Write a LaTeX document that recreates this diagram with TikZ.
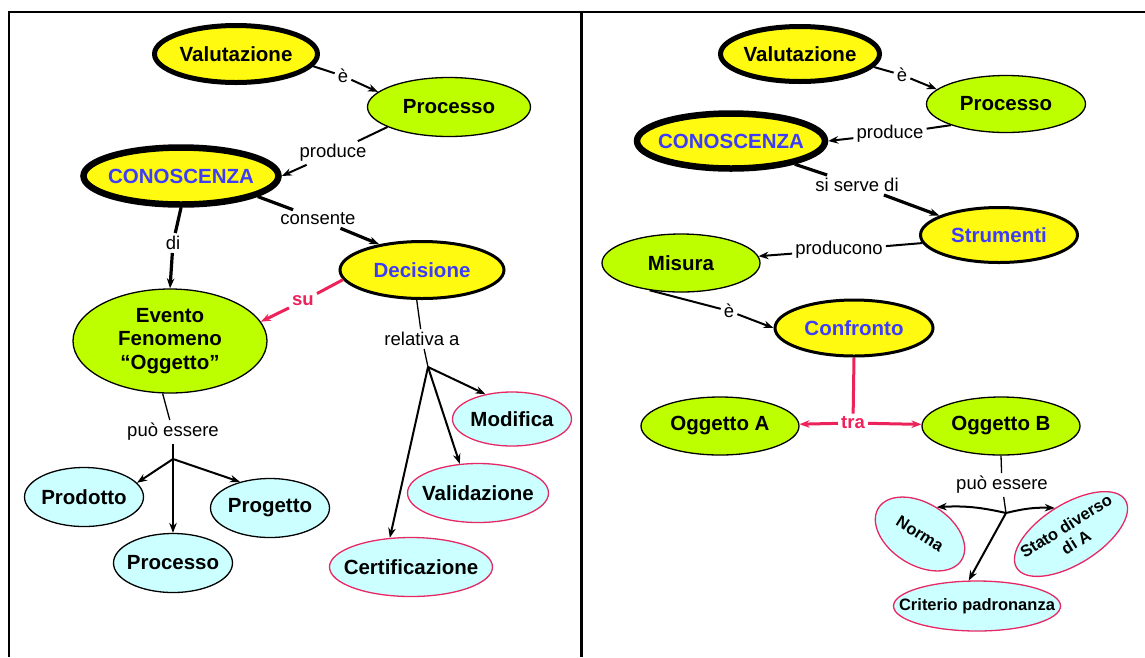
\documentclass[tikz,border=0pt]{standalone}
\usepackage{fontspec}
\setmainfont{Liberation Sans}
\usetikzlibrary{shapes.geometric,arrows.meta}
\definecolor{cyel}{RGB}{255,250,15}
\definecolor{cgrn}{RGB}{190,255,0}
\definecolor{ccya}{RGB}{204,255,255}
\definecolor{cpink}{RGB}{230,40,100}
\definecolor{cred}{RGB}{238,34,90}
\definecolor{cblue}{RGB}{60,60,250}
\newcommand{\cmfont}{\fontsize{20.5}{23.5}\selectfont\bfseries}
\newcommand{\lbfont}{\fontsize{18.5}{21}\selectfont}
\newcommand{\smfont}{\fontsize{16.5}{19}\selectfont\bfseries}
\newcommand{\zb}[1]{\makebox[0pt]{#1}}
\begin{document}
\begin{tikzpicture}[x=1pt,y=-1pt,
 concept/.style={ellipse, draw=black, line width=1.3pt, inner sep=0pt, align=center, font=\cmfont},
 yel/.style={concept, fill=cyel},
 grn/.style={concept, fill=cgrn},
 cya/.style={concept, fill=ccya},
 cyap/.style={concept, fill=ccya, draw=cpink},
 bluetxt/.style={text=cblue},
 lbl/.style={inner sep=3pt, font=\lbfont},
 redlbl/.style={inner sep=3pt, font=\lbfont\bfseries, text=cred},
 link/.style={line width=2pt},
 thin link/.style={line width=1.3pt},
 thick link/.style={line width=3.2pt},
 redlink/.style={line width=3pt, draw=cred},
 arrowto/.style={-{Stealth[length=10pt,width=7.5pt]}},
 framel/.style={line width=2.5pt},
]
\useasboundingbox (0,0) rectangle (1145,657);
\fill[white] (0,0) rectangle (1145,657);

% frame
\draw[framel] (8,12) -- (1145,12);
\draw[framel] (9,12) -- (9,657);
\draw[framel] (581.5,12) -- (581.5,657);

% ---------- left panel ----------
\node[yel, line width=5pt, minimum width=163pt, minimum height=57pt] (valL) at (236,54) {\zb{Valutazione}};
\node[grn, minimum width=163pt, minimum height=59pt] (procL) at (449,107) {\zb{Processo}};
\node[yel, bluetxt, line width=6.5pt, minimum width=195pt, minimum height=57pt] (conoL) at (181,176) {\zb{CONOSCENZA}};
\node[yel, bluetxt, line width=3pt, minimum width=164pt, minimum height=57pt] (decL) at (422,270) {\zb{Decisione}};
\node[grn, minimum width=194pt, minimum height=104pt] (evL) at (170,341) {\zb{Evento}\\\zb{Fenomeno}\\\zb{“Oggetto”}};
\node[cyap, minimum width=119pt, minimum height=54pt] (modL) at (512,419) {\zb{Modifica}};
\node[cyap, minimum width=141pt, minimum height=59pt] (valiL) at (478,493) {\zb{Validazione}};
\node[cyap, minimum width=163pt, minimum height=59pt] (certL) at (411,567) {\zb{Certificazione}};
\node[cya, minimum width=119pt, minimum height=59pt] (prodL) at (84,497) {\zb{Prodotto}};
\node[cya, minimum width=119pt, minimum height=59pt] (progL) at (270,508) {\zb{Progetto}};
\node[cya, minimum width=119pt, minimum height=59pt] (procL2) at (173,563) {\zb{Processo}};

\node[lbl] (le1) at (343,76) {è};
\node[lbl] (lprod) at (333,153) {produce};
\node[lbl] (lcons) at (318,219) {consente};
\node[lbl] (ldi) at (173,243) {di};
\node[redlbl] (lsu) at (303,301) {su};
\node[lbl] (lrel) at (422,339) {relativa a};
\node[lbl] (lpe) at (173,432) {può essere};
\coordinate (bRel) at (428,367);
\coordinate (bPe) at (173,459);

\draw[link] (valL.-9) -- (le1);
\draw[link,arrowto] (le1) -- (procL.168);
\draw[link] (procL.198) -- (lprod);
\draw[link,arrowto] (lprod) -- (conoL.east);
\draw[thick link] (conoL.-15) -- (lcons);
\draw[thick link,arrowto] (lcons) -- (decL.149);
\draw[thick link] (conoL.south) -- (ldi);
\draw[thick link,arrowto] (ldi) -- (evL.north);
\draw[redlink] (decL.187) -- (lsu);
\draw[redlink,arrowto] (lsu) -- (evL.12);
\draw[thin link] (decL.-100) -- (lrel);
\draw[thin link] (lrel) -- (bRel);
\draw[link,arrowto] (bRel) -- (modL.137);
\draw[link,arrowto] (bRel) -- (valiL.122);
\draw[link,arrowto] (bRel) -- (certL.126);
\draw[thin link] (evL.-98) -- (lpe);
\draw[thin link] (lpe) -- (bPe);
\draw[link,arrowto] (bPe) -- (prodL.15);
\draw[link,arrowto] (bPe) -- (procL2.north);
\draw[link,arrowto] (bPe) -- (progL.139);

% ---------- right panel ----------
\node[yel, line width=5pt, minimum width=159pt, minimum height=55pt] (valR) at (800,54) {\zb{Valutazione}};
\node[grn, minimum width=159pt, minimum height=57pt] (procR) at (1006,104) {\zb{Processo}};
\node[yel, bluetxt, line width=6.5pt, minimum width=188pt, minimum height=55pt] (conoR) at (731,141) {\zb{CONOSCENZA}};
\node[yel, bluetxt, line width=3pt, minimum width=157pt, minimum height=55pt] (strR) at (999,235) {\zb{Strumenti}};
\node[grn, minimum width=158pt, minimum height=58pt] (misR) at (681,263) {\zb{Misura}};
\node[yel, bluetxt, line width=3pt, minimum width=158pt, minimum height=56pt] (confR) at (854,328) {\zb{Confronto}};
\node[grn, minimum width=158pt, minimum height=58pt] (oggA) at (720,426) {\zb{Oggetto A}};
\node[grn, minimum width=158pt, minimum height=58pt] (oggB) at (1001,426) {\zb{Oggetto B}};
\node[cyap, font=\smfont, rotate=-32, minimum width=98pt, minimum height=62pt] (normR) at (920,534) {\zb{Norma}};
\node[cyap, font=\smfont, rotate=32, minimum width=128pt, minimum height=60pt] (statoR) at (1071,534) {\zb{Stato diverso}\\\zb{di A}};
\node[cyap, font=\smfont, minimum width=167pt, minimum height=50pt] (critR) at (977,606) {\zb{Criterio padronanza}};

\node[lbl] (re1) at (902,75) {è};
\node[lbl] (rprod) at (890,134) {produce};
\node[lbl] (rssd) at (857,185) {si serve di};
\node[lbl] (rpcn) at (839,250) {producono};
\node[lbl] (re2) at (729,311) {è};
\node[redlbl] (rtra) at (853,423) {tra};
\node[lbl] (rpe) at (1002,485) {può essere};
\coordinate (bPeR) at (1006,513);

\draw[link] (valR.-10) -- (re1);
\draw[link,arrowto] (re1) -- (procR.168);
\draw[link] (procR.201) -- (rprod);
\draw[link,arrowto] (rprod) -- (conoR.east);
\draw[thick link] (conoR.-20) -- (rssd);
\draw[thick link,arrowto] (rssd) -- (strR.162);
\draw[link] (strR.186) -- (rpcn);
\draw[link,arrowto] (rpcn) -- (misR.5);
\draw[link] (misR.221) -- (re2);
\draw[link,arrowto] (re2) -- (confR.west);
\draw[redlink] (confR.south) -- (rtra);
\draw[redlink,arrowto] (rtra) -- (oggA);
\draw[redlink,arrowto] (rtra) -- (oggB);
\draw[thin link] (oggB.south) -- (rpe);
\draw[thin link] (rpe) -- (bPeR);
\draw[link,arrowto] (bPeR) to[bend right=8] (normR.north);
\draw[link,arrowto] (bPeR) to[bend left=8] (statoR.north);
\draw[link,arrowto] (bPeR) -- (critR.108);
\end{tikzpicture}
\end{document}
